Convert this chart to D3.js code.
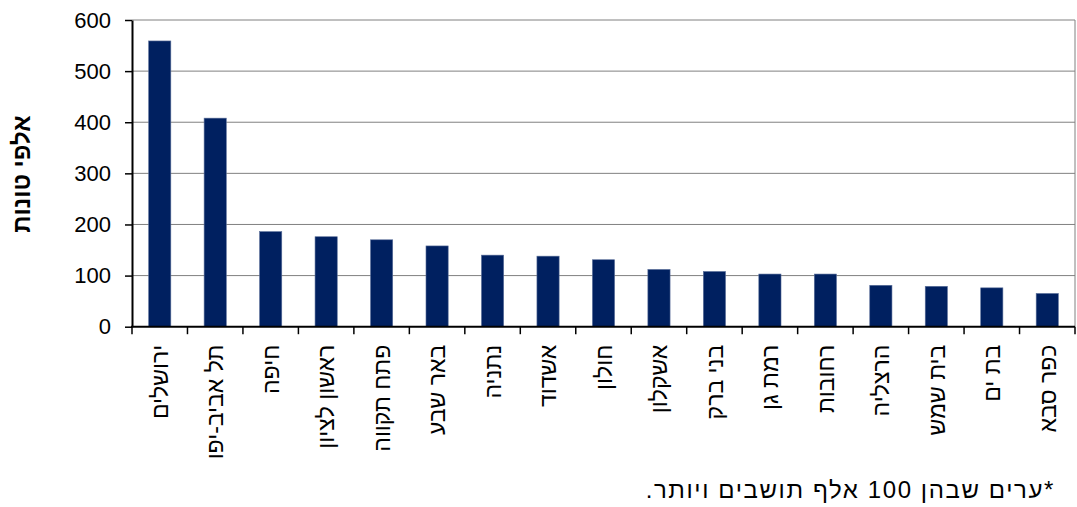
<!DOCTYPE html>
<html>
<head>
<meta charset="utf-8">
<script src="https://cdn.jsdelivr.net/npm/d3@7"></script>
<style>
  html, body { margin: 0; padding: 0; background: #ffffff; }
  svg { display: block; font-family: "Liberation Sans", Arial, sans-serif; }
</style>
</head>
<body>
<svg id="chart" width="1077" height="507"></svg>
<script>
// Cities with 100k+ residents, thousands of tonnes
const cities = ["ירושלים", "תל אביב-יפו", "חיפה", "ראשון לציון", "פתח תקווה", "באר שבע", "נתניה", "אשדוד", "חולון", "אשקלון", "בני ברק", "רמת גן", "רחובות", "הרצליה", "בית שמש", "בת ים", "כפר סבא"];
const tonnes = [559, 408, 186, 176, 170, 158, 140, 138, 131, 112, 108, 103, 103, 81, 79, 76, 65];
const yTicks = [0, 100, 200, 300, 400, 500, 600];
const yTitle = "אלפי טונות";
const footnote = "*ערים שבהן 100 אלף תושבים ויותר.";

const svg = d3.select("#chart");
const plotLeft = 132, plotRight = 1075, plotTop = 20, plotBottom = 326.7;

const x = d3.scaleBand().domain(cities).range([plotLeft, plotRight]).paddingInner(0.6).paddingOuter(0.3);
const y = d3.scaleLinear().domain([0, 600]).range([plotBottom, plotTop]);

// gridlines
svg.append("g")
  .selectAll("line")
  .data(yTicks.filter(d => d > 0))
  .join("line")
  .attr("x1", plotLeft).attr("x2", plotRight)
  .attr("y1", d => y(d)).attr("y2", d => y(d))
  .attr("stroke", "#808080").attr("stroke-width", 1);

// right border of plot area
svg.append("line")
  .attr("x1", plotRight).attr("x2", plotRight)
  .attr("y1", plotTop).attr("y2", plotBottom)
  .attr("stroke", "#808080").attr("stroke-width", 1);

// bars
svg.append("g")
  .selectAll("rect")
  .data(cities)
  .join("rect")
  .attr("x", d => x(d))
  .attr("width", x.bandwidth())
  .attr("y", (d, i) => y(tonnes[i]))
  .attr("height", (d, i) => plotBottom - y(tonnes[i]))
  .attr("fill", "#002060")
  .attr("stroke", "#5a6f9a")
  .attr("stroke-width", 0.6);

// y axis
const yAxis = svg.append("g")
  .attr("transform", `translate(${plotLeft},0)`)
  .call(d3.axisLeft(y).tickValues(yTicks).tickSize(7).tickPadding(14).tickSizeOuter(0));
yAxis.select(".domain").attr("stroke", "#000").attr("stroke-width", 2);
yAxis.selectAll(".tick line").attr("stroke", "#000").attr("stroke-width", 1.5);
yAxis.selectAll(".tick text")
  .attr("font-size", "22px").attr("fill", "#000")
  .attr("font-family", "'Liberation Sans', Arial, sans-serif");

// x axis baseline with ticks between categories
const step = x.step();
const boundaries = d3.range(cities.length + 1).map(i => plotLeft + i * step);
svg.append("g")
  .selectAll("line")
  .data(boundaries)
  .join("line")
  .attr("x1", d => d).attr("x2", d => d)
  .attr("y1", plotBottom).attr("y2", plotBottom + 7.5)
  .attr("stroke", "#000").attr("stroke-width", 1.5);
svg.append("line")
  .attr("x1", plotLeft - 1).attr("x2", plotRight)
  .attr("y1", plotBottom).attr("y2", plotBottom)
  .attr("stroke", "#000").attr("stroke-width", 2);

// category labels, vertical
svg.append("g")
  .selectAll("text")
  .data(cities)
  .join("text")
  .attr("transform", d => `translate(${x(d) + x.bandwidth() / 2},${plotBottom + 18}) rotate(-90)`)
  .attr("text-anchor", "end")
  .attr("dy", "0.36em")
  .attr("font-size", "23px")
  .attr("fill", "#000")
  .text(d => d);

// y axis title
svg.append("text")
  .attr("transform", `translate(21.5,174) rotate(-90)`)
  .attr("text-anchor", "middle")
  .attr("dy", "0.36em")
  .attr("font-size", "24px")
  .attr("font-weight", "bold")
  .attr("fill", "#000")
  .text(yTitle);

// footnote
svg.append("text")
  .attr("x", 1055)
  .attr("y", 498)
  .attr("text-anchor", "end")
  .attr("font-size", "24px")
  .attr("letter-spacing", "1.6px")
  .attr("fill", "#000")
  .text("\u202B" + footnote + "\u202C");
</script>
</body>
</html>
